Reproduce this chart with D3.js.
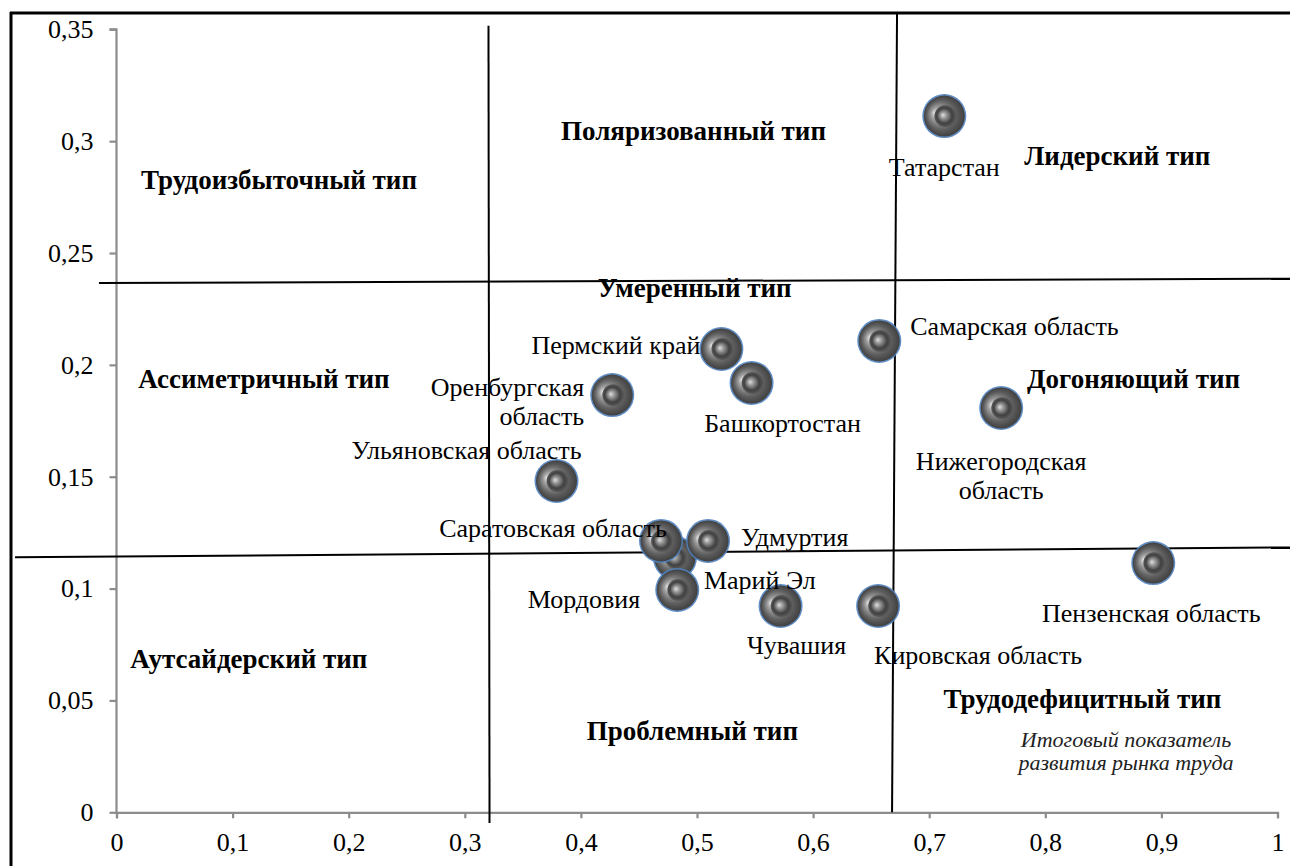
<!DOCTYPE html>
<html><head><meta charset="utf-8">
<script src="https://cdn.jsdelivr.net/npm/d3@7"></script>
<style>
html,body{margin:0;padding:0;background:#fff;}
svg{display:block;}
text{font-family:"Liberation Serif","Times New Roman",serif;}
</style></head>
<body>
<script>
// ---- data ----
const regions = ["Марий Эл","Татарстан","Самарская область","Пермский край","Башкортостан","Оренбургская область","Нижегородская область","Ульяновская область","Саратовская область","Удмуртия","Мордовия","Чувашия","Кировская область","Пензенская область"];
const xValues = [0.481,0.713,0.657,0.521,0.547,0.427,0.762,0.379,0.469,0.5095,0.483,0.572,0.656,0.893];
const yValues = [0.1137,0.3112,0.2107,0.2071,0.1919,0.1865,0.1807,0.1481,0.1213,0.1213,0.0994,0.0922,0.0922,0.1114];
const labelLines = [["Марий Эл"],["Татарстан"],["Самарская область"],["Пермский край"],["Башкортостан"],["Оренбургская","область"],["Нижегородская","область"],["Ульяновская область"],["Саратовская область"],["Удмуртия"],["Мордовия"],["Чувашия"],["Кировская область"],["Пензенская область"]];
const xTicks = [0,0.1,0.2,0.3,0.4,0.5,0.6,0.7,0.8,0.9,1];
const xTickLabels = ["0","0,1","0,2","0,3","0,4","0,5","0,6","0,7","0,8","0,9","1"];
const yTicks = [0,0.05,0.1,0.15,0.2,0.25,0.3,0.35];
const yTickLabels = ["0","0,05","0,1","0,15","0,2","0,25","0,3","0,35"];
const typeNames = ["Трудоизбыточный тип","Поляризованный тип","Лидерский тип","Ассиметричный тип","Умеренный тип","Догоняющий тип","Аутсайдерский тип","Проблемный тип","Трудодефицитный тип"];
const typeX = [0.14,0.497,0.862,0.127,0.498,0.876,0.114,0.496,0.832];
const typeY = [0.2825,0.3045,0.2935,0.1935,0.2345,0.1935,0.0685,0.0365,0.0505];
const axisTitleLines = ["Итоговый показатель","развития рынка труда"];
// divider lines in data units [x1,y1,x2,y2]
const dividers = [[0.3204,0.3516,0.3213,-0.0048],[0.6723,0.3574,0.6680,0],[-0.0151,0.2366,1.011,0.2385],[-0.0874,0.1140,1.011,0.1184]];

// ---- layout ----
const W = 1290, H = 866;
const x = d3.scaleLinear().domain([0,1]).range([116.5,1277.5]);
const y = d3.scaleLinear().domain([0,0.35]).range([812.3,29.3]);
// label placement relative to bubble center: [dx, dy(baseline), anchor]
const labelPlacement = [[29,31,"start"],[0,60,"middle"],[31,-6,"start"],[-21,5,"end"],[31,49,"middle"],[-28,1,"end"],[0,62,"middle"],[-90,-22,"middle"],[-108,-4,"middle"],[33,5,"start"],[-37,18,"end"],[16,48,"middle"],[100,58,"middle"],[-2,59,"middle"]];

const svg = d3.select("body").append("svg").attr("width",W).attr("height",H);
const defs = svg.append("defs");
const g1 = defs.append("radialGradient").attr("id","outerG").attr("cx","50%").attr("cy","50%").attr("r","50%").attr("fx","26%").attr("fy","42%");
[[0,"#e8e8e8"],[0.3,"#a0a0a0"],[0.72,"#5e5e5e"],[1,"#404040"]].forEach(s=>g1.append("stop").attr("offset",s[0]).attr("stop-color",s[1]));
const g2 = defs.append("radialGradient").attr("id","innerG").attr("cx","50%").attr("cy","50%").attr("r","50%").attr("fx","38%").attr("fy","45%");
[[0,"#e0e0e0"],[0.28,"#9a9a9a"],[0.7,"#404040"],[1,"#5a5a5a"]].forEach(s=>g2.append("stop").attr("offset",s[0]).attr("stop-color",s[1]));

svg.append("rect").attr("width",W).attr("height",H).attr("fill","#fff");
// frame
svg.append("line").attr("x1",10).attr("x2",W).attr("y1",13).attr("y2",13).attr("stroke","#000").attr("stroke-width",3);
svg.append("line").attr("x1",11).attr("x2",11).attr("y1",12).attr("y2",H).attr("stroke","#000").attr("stroke-width",3);

// axes
const axColor = "#8c8c8c";
const yAxis = svg.append("g").attr("transform",`translate(${x(0)},0)`)
  .call(d3.axisLeft(y).tickValues(yTicks).tickFormat((d,i)=>yTickLabels[i]).tickSize(7).tickPadding(16));
const xAxis = svg.append("g").attr("transform",`translate(0,${y(0)})`)
  .call(d3.axisBottom(x).tickValues(xTicks).tickFormat((d,i)=>xTickLabels[i]).tickSize(6).tickPadding(14));
[yAxis,xAxis].forEach(a=>{
  a.selectAll("path").attr("stroke",axColor).attr("stroke-width",2.2);
  a.selectAll("line").attr("stroke",axColor).attr("stroke-width",2.2);
  a.selectAll("text").attr("fill","#000").style("font-size","26px").style("font-family","'Liberation Serif',serif");
});
yAxis.select(".domain").attr("d",`M-0,${y(0)}V${y(0.35)}H-7`);

// dividers
svg.append("g").selectAll("line").data(dividers).join("line")
  .attr("x1",d=>x(d[0])).attr("y1",d=>y(d[1])).attr("x2",d=>x(d[2])).attr("y2",d=>y(d[3]))
  .attr("stroke","#000").attr("stroke-width",2);

// type labels
svg.append("g").selectAll("text").data(typeNames).join("text")
  .attr("x",(d,i)=>x(typeX[i])).attr("y",(d,i)=>y(typeY[i])+9)
  .attr("text-anchor","middle").attr("font-weight","bold").style("font-size","27px").text(d=>d);

// bubbles
const R = 21;
const bub = svg.append("g").selectAll("g").data(regions).join("g")
  .attr("transform",(d,i)=>`translate(${x(xValues[i])},${y(yValues[i])})`);
bub.append("circle").attr("r",R+1).attr("fill","#4f81bd").attr("opacity",0.9);
bub.append("circle").attr("r",R-0.5).attr("fill","url(#outerG)");
bub.append("circle").attr("r",R*0.52).attr("cx",1).attr("cy",0).attr("fill","url(#innerG)");

// point labels
const lab = svg.append("g").selectAll("text").data(regions).join("text")
  .attr("x",(d,i)=>x(xValues[i])+labelPlacement[i][0])
  .attr("y",(d,i)=>y(yValues[i])+labelPlacement[i][1])
  .attr("text-anchor",(d,i)=>labelPlacement[i][2]).style("font-size","26px");
lab.each(function(d,i){
  const t = d3.select(this);
  labelLines[i].forEach((ln,k)=>{
    t.append("tspan").attr("x",x(xValues[i])+labelPlacement[i][0]).attr("dy",k===0?0:29).text(ln);
  });
});

// axis title
svg.append("g").selectAll("text").data(axisTitleLines).join("text")
  .attr("x",1126).attr("y",(d,i)=>747+i*23).attr("text-anchor","middle")
  .attr("font-style","italic").style("font-size","22px").attr("fill","#222").text(d=>d);
</script>
</body></html>
